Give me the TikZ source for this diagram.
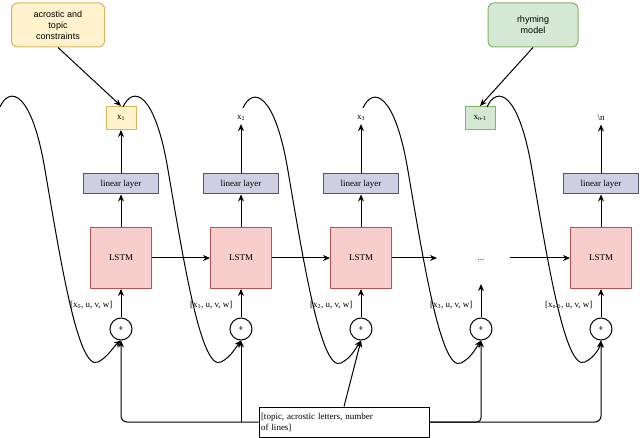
\documentclass[tikz,border=0pt]{standalone}
\usepackage{fontspec}
\setmainfont{Liberation Serif}
\newfontfamily\sansf{Liberation Sans}
\usetikzlibrary{arrows.meta,calc}
\begin{document}
\begin{tikzpicture}[x=1pt,y=-1pt,
  ar/.style={-{Stealth[length=7pt,width=6pt]},line width=1pt},
  lin/.style={draw={rgb,255:red,86;green,81;blue,126},fill={rgb,255:red,208;green,206;blue,226},line width=1pt,minimum width=75pt,minimum height=20pt,inner sep=0pt,font=\small},
  lstm/.style={draw={rgb,255:red,184;green,84;blue,80},fill={rgb,255:red,248;green,206;blue,204},line width=1pt,minimum width=61pt,minimum height=61pt,font=\small},
  pl/.style={circle,draw,line width=1pt,minimum size=22pt,inner sep=0pt,font=\small\bfseries},
  lab/.style={font=\small,anchor=east},
  call/.style={rounded corners=6pt,line width=1pt,align=center,font=\sansf\small,minimum height=44pt,inner sep=2pt},
  cur/.style={line width=1pt,-{Stealth[length=7pt,width=6pt]}}]
\useasboundingbox (0,0) rectangle (640,438);
% callouts
\node[call,draw={rgb,255:red,214;green,182;blue,86},fill={rgb,255:red,255;green,242;blue,204},minimum width=93pt] (c1) at (58,25) {acrostic and\\topic\\constraints};
\node[call,draw={rgb,255:red,130;green,179;blue,102},fill={rgb,255:red,213;green,232;blue,212},minimum width=90pt] (c2) at (533,25) {rhyming\\model};
% outputs
\node[draw={rgb,255:red,214;green,182;blue,86},fill={rgb,255:red,255;green,242;blue,204},line width=1pt,minimum width=30pt,minimum height=23pt,inner sep=0pt,font=\small] (o1) at (121,118) {x\textsubscript{1}};
\node[font=\small] (o2) at (241,118) {x\textsubscript{2}};
\node[font=\small] (o3) at (361,118) {x\textsubscript{3}};
\node[draw={rgb,255:red,130;green,179;blue,102},fill={rgb,255:red,213;green,232;blue,212},line width=1pt,minimum width=30pt,minimum height=23pt,inner sep=0pt,font=\small] (o4) at (480,118) {x\textsubscript{n-1}};
\node[font=\small] (o5) at (601,118) {\textbackslash n};
\draw[ar] (c1.south) -- (o1.north);
\draw[ar] (c2.south) -- (o4.north);
% cells
\foreach \i/\x in {1/121,2/241,3/361,5/601}{
  \node[lin] (l\i) at (\x,184) {linear layer};
  \node[lstm] (s\i) at (\x,258) {LSTM};
  \draw[ar] (s\i.north) -- (l\i.south);
  \draw[ar] (l\i.north) -- (o\i.south);
}
\node[font=\small] (dots) at (481,260) {...};
\coordinate (d1) at (437,258);
\coordinate (d2) at (510,258);
\coordinate (d3) at (481,284);
\foreach \i/\x in {1/121,2/241,3/361,4/481,5/601}{
  \node[pl] (p\i) at (\x,329) {+};
}
\foreach \i in {1,2,3,5} \draw[ar] (p\i.north) -- (s\i.south);
\draw[ar] (p4.north) -- (d3);
\draw[ar] (s1.east) -- (s2.west);
\draw[ar] (s2.east) -- (s3.west);
\draw[ar] (s3.east) -- (d1);
\draw[ar] (d2) -- (s5.west);
% labels
\node[lab] at (116,305) {[x\textsubscript{0}, u, v, w]};
\node[lab] at (236,305) {[x\textsubscript{1}, u, v, w]};
\node[lab] at (356,305) {[x\textsubscript{2}, u, v, w]};
\node[lab] at (476,305) {[x\textsubscript{3}, u, v, w]};
\node[lab] at (596,305) {[x\textsubscript{n-1}, u, v, w]};
% bottom box
\coordinate (j2) at (241,422);
\coordinate (j4) at (481,422);
\node[draw,fill=white,line width=1pt,align=left,font=\small,minimum height=30pt,inner sep=2pt,text width=166pt] (b) at (344,422) {[topic, acrostic letters, number\\of lines]};
\draw[ar,rounded corners=6pt] (b.west) -| (p1.south);
\draw[ar] (j2) -- (p2.south);
\draw[ar] (b.north) -- (p3.south);
\draw[ar,rounded corners=6pt] (b.east) -| (p5.south);
\draw[ar,rounded corners=4pt] (b.east) -- (j4) -- (p4.south);
% recurrent curves
\coordinate (st0) at (0,107);
\coordinate (st1) at (123,107);
\coordinate (st2) at (243,108);
\coordinate (st3) at (363,108);
\coordinate (st4) at (487,107);
\foreach \a/\b in {st0/p1,st1/p2,st2/p3,st3/p4,st4/p5}{
  \draw[cur] (\a) .. controls ($(\a)+(10,-22)$) and ($(\a)+(32,-15)$) .. ($(\a)+(45,63)$)
     .. controls ($(\a)+(60,150)$) and ($(\a)+(78,265)$) .. ($(\a)+(98,255)$)
     .. controls ($(\a)+(108,250)$) and ($(\a)+(113,240)$) .. (\b.south);
}
\end{tikzpicture}
\end{document}
